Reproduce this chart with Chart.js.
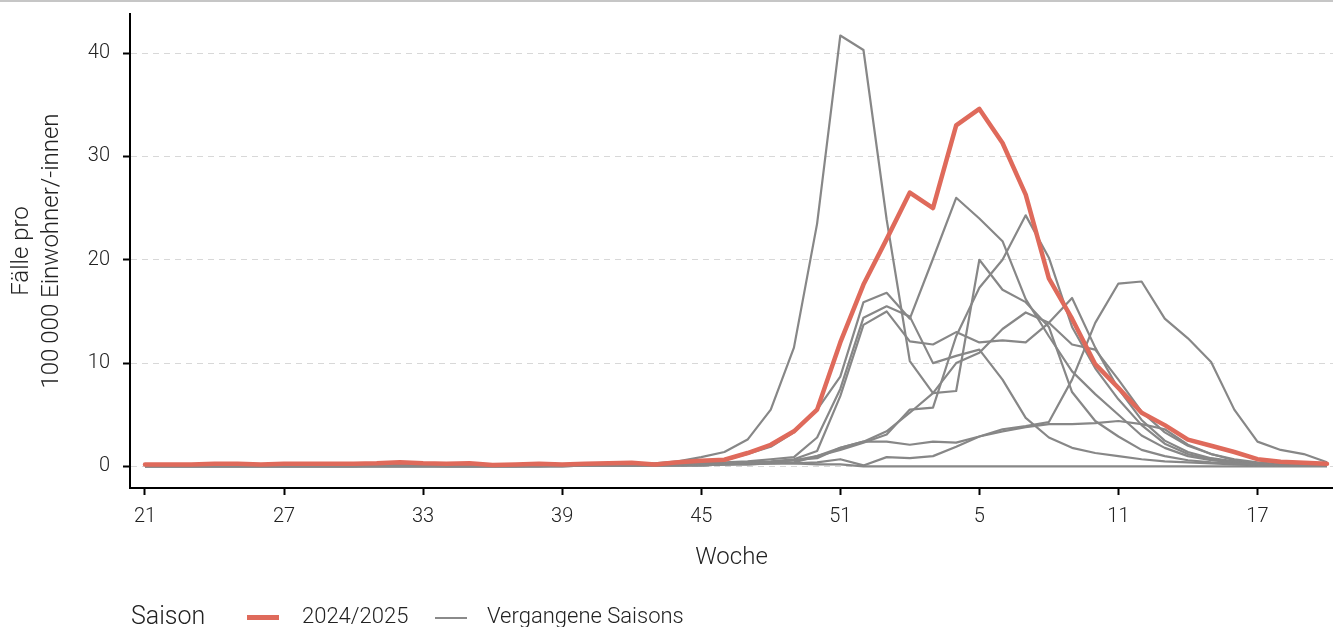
<!DOCTYPE html>
<html>
<head>
<meta charset="utf-8">
<script src="https://cdn.jsdelivr.net/npm/chart.js@4.4.1/dist/chart.umd.min.js"></script>
<style>
html,body{margin:0;padding:0;background:#fff;}
#wrap{position:relative;width:1333px;height:627px;overflow:hidden;background:#fff;}
#topline{position:absolute;left:0;top:0;width:1333px;height:2px;background:#c6c6c6;}
#chart{position:absolute;left:0;top:0;}
.lg{position:absolute;font-family:Roboto,sans-serif;font-weight:300;color:#222;white-space:nowrap;line-height:1;}
.sw{position:absolute;}
</style>
</head>
<body>
<div id="wrap">
  <canvas id="chart" width="1333" height="627"></canvas>
  <div id="topline"></div>
  <div class="lg" style="left:131px;top:603px;font-size:25px;">Saison</div>
  <div class="sw" style="left:247px;top:615px;width:32px;height:5px;background:#df6a5b;"></div>
  <div class="lg" style="left:302px;top:605px;font-size:22px;">2024/2025</div>
  <div class="sw" style="left:435px;top:617px;width:32px;height:2px;background:#8a8a8a;"></div>
  <div class="lg" style="left:487px;top:605px;font-size:22px;">Vergangene Saisons</div>
</div>
<script>
// Kalenderwochen (Saison von KW 21 bis KW 20)
const weeks = [21,22,23,24,25,26,27,28,29,30,31,32,33,34,35,36,37,38,39,40,41,42,43,44,45,46,47,48,49,50,51,52,
               1,2,3,4,5,6,7,8,9,10,11,12,13,14,15,16,17,18,19,20];
const xTickWeeks = [21,27,33,39,45,51,5,11,17];
const yTicks = [0,10,20,30,40];

// Saison 2024/2025
const season2024 = [0.2,0.2,0.2,0.25,0.25,0.2,0.25,0.25,0.25,0.25,0.3,0.4,0.3,0.25,0.3,0.15,0.2,0.25,0.2,0.25,0.3,0.35,0.2,
  0.4,0.55,0.65,1.3,2.1,3.4,5.5,12.0,17.6,
  22.0,26.5,25.0,33.0,34.6,31.3,26.3,18.2,14.3,9.9,7.6,5.2,4.0,2.6,2.0,1.4,0.7,0.45,0.35,0.25];

// Vergangene Saisons
const pastA = [0.1,0.1,0.1,0.1,0.1,0.1,0.1,0.1,0.1,0.1,0.1,0.1,0.1,0.1,0.1,0.1,0.1,0.1,0.2,0.2,0.2,0.3,0.3,
  0.5,0.9,1.4,2.6,5.5,11.5,23.5,41.7,40.3,
  23.9,10.2,7.1,7.3,20.0,17.1,15.9,13.5,7.2,4.4,2.9,1.6,1.0,0.6,0.4,0.3,0.2,0.1,0.1,0.1];
const pastB = [0.1,0.1,0.1,0.1,0.1,0.1,0.1,0.1,0.1,0.1,0.1,0.1,0.1,0.1,0.1,0.1,0.1,0.1,0.1,0.1,0.1,0.1,0.2,
  0.2,0.3,0.6,1.2,1.9,3.3,5.5,8.7,15.9,
  16.8,14.3,20.1,26.0,24.0,21.8,16.2,12.6,9.2,7.0,5.0,3.0,1.8,1.0,0.6,0.4,0.2,0.1,0.1,0.1];
const pastC = [0.0,0.0,0.0,0.0,0.0,0.0,0.0,0.0,0.0,0.0,0.1,0.1,0.1,0.0,0.0,0.0,0.0,0.0,0.0,0.1,0.1,0.1,0.1,
  0.1,0.2,0.2,0.3,0.4,0.6,1.0,1.6,2.3,
  3.1,5.5,5.7,12.6,17.3,20.0,24.3,20.2,13.5,9.5,6.5,4.0,2.2,1.2,0.7,0.4,0.2,0.1,0.1,0.1];
const pastE = [0.1,0.1,0.1,0.1,0.1,0.1,0.1,0.1,0.1,0.1,0.1,0.1,0.1,0.1,0.1,0.1,0.1,0.1,0.1,0.1,0.2,0.2,0.2,
  0.2,0.2,0.3,0.4,0.5,0.7,1.5,6.8,13.7,
  15.0,12.1,11.8,13.0,12.0,12.2,12.0,13.9,11.8,11.3,8.4,5.3,3.3,2.0,1.2,0.7,0.4,0.2,0.1,0.1];
const pastF = [0.1,0.1,0.1,0.1,0.1,0.1,0.1,0.1,0.1,0.1,0.1,0.1,0.1,0.1,0.1,0.1,0.1,0.1,0.1,0.1,0.1,0.1,0.1,
  0.2,0.3,0.4,0.5,0.7,0.9,2.8,7.5,14.4,
  15.5,14.5,10.0,10.7,11.3,8.4,4.7,2.8,1.8,1.3,1.0,0.7,0.5,0.4,0.3,0.2,0.1,0.1,0.1,0.1];
const pastM = [0.0,0.0,0.0,0.0,0.0,0.0,0.0,0.0,0.0,0.0,0.0,0.0,0.0,0.0,0.0,0.0,0.0,0.1,0.1,0.1,0.1,0.1,0.1,
  0.1,0.1,0.2,0.3,0.4,0.6,0.8,1.8,2.4,
  3.4,5.2,7.1,10.0,11.0,13.3,14.9,13.9,16.3,11.5,7.5,4.5,2.5,1.4,0.8,0.5,0.3,0.2,0.1,0.1];
const pastL = [0.0,0.0,0.0,0.0,0.0,0.0,0.0,0.0,0.0,0.0,0.0,0.0,0.0,0.0,0.0,0.0,0.0,0.0,0.1,0.1,0.1,0.1,0.1,
  0.1,0.1,0.2,0.2,0.3,0.4,1.0,1.8,2.4,
  2.4,2.1,2.4,2.3,2.9,3.6,3.9,4.3,8.4,13.9,17.7,17.9,14.3,12.4,10.1,5.5,2.4,1.6,1.2,0.4];
const pastS = [0.0,0.0,0.0,0.0,0.0,0.0,0.0,0.0,0.0,0.0,0.0,0.0,0.0,0.0,0.0,0.0,0.0,0.0,0.0,0.1,0.1,0.1,0.1,
  0.1,0.1,0.2,0.2,0.3,0.3,0.4,0.7,0.1,
  0.9,0.8,1.0,1.9,2.9,3.4,3.8,4.1,4.1,4.2,4.4,4.1,3.6,2.1,1.2,0.6,0.3,0.2,0.1,0.1];
const pastZ = [0.2,0.2,0.1,0.1,0.1,0.1,0.1,0.1,0.1,0.1,0.2,0.3,0.2,0.1,0.1,0.1,0.1,0.1,0.1,0.1,0.2,0.2,0.2,
  0.2,0.2,0.3,0.3,0.3,0.3,0.2,0.2,0.0,
  0.0,0.0,0.0,0.0,0.0,0.0,0.0,0.0,0.0,0.0,0.0,0.0,0.0,0.0,0.0,0.0,0.0,0.0,0.0,0.0];
const pastSeasons = [pastA,pastB,pastC,pastE,pastF,pastM,pastL,pastS,pastZ];

const toPoints = arr => arr.map((v,i) => ({x:i, y:v}));

const datasets = [{
  label:'2024/2025', data: toPoints(season2024), borderColor:'#df6a5b', borderWidth:4.5,
  pointRadius:0, tension:0, order:0, borderJoinStyle:'round', borderCapStyle:'round'
}].concat(pastSeasons.map(s => ({
  label:'Vergangene Saisons', data: toPoints(s), borderColor:'#878787', borderWidth:2.2,
  pointRadius:0, tension:0, order:1, borderJoinStyle:'round'
})));

const FONT = 'Roboto';
new Chart(document.getElementById('chart'), {
  type:'line',
  data:{datasets},
  options:{
    responsive:false, animation:false, devicePixelRatio:1,
    layout:{padding:{top:14,left:0,right:0,bottom:0}},
    plugins:{legend:{display:false}, tooltip:{enabled:false}},
    scales:{
      x:{
        type:'linear', min:-0.647, max:51.259,
        afterBuildTicks: s => { s.ticks = xTickWeeks.map(w => ({value: weeks.indexOf(w)})); },
        afterFit: s => { s.height = 139; s.paddingLeft = 0; s.paddingRight = 0; },
        ticks:{ callback: v => String(weeks[v]), font:{family:FONT,size:20,weight:300}, color:'#222', padding:10, maxRotation:0, autoSkip:false },
        grid:{ drawOnChartArea:false, drawTicks:true, tickLength:7, tickColor:'#000', tickWidth:2 },
        border:{ display:true, color:'#000', width:2 },
        title:{ display:true, text:'Woche', font:{family:FONT,size:24,weight:300}, color:'#222', padding:{top:0,bottom:55} }
      },
      y:{
        min:-2.085, max:43.785,
        afterBuildTicks: s => { s.ticks = yTicks.map(v => ({value:v})); },
        afterFit: s => { s.width = 130; s.paddingTop = 0; s.paddingBottom = 0; },
        ticks:{ font:{family:FONT,size:20,weight:300}, color:'#222', padding:13 },
        grid:{ color:'#d8d8d8', lineWidth:1, drawTicks:true, tickLength:7, tickColor:'#000', tickWidth:2, tickBorderDash:[] },
        border:{ display:true, color:'#000', width:2, dash:[6,5] },
        title:{ display:true, text:['Fälle pro','100\u2009000 Einwohner/-innen'], font:{family:FONT,size:24,weight:300,lineHeight:1.25}, color:'#222', padding:{top:7,bottom:0} }
      }
    }
  }
});
</script>
</body>
</html>
